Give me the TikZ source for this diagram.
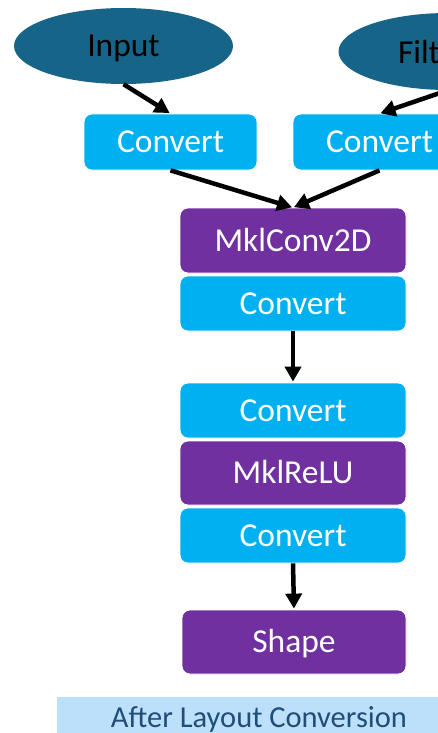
\documentclass[tikz,border=0pt]{standalone}
\usepackage{fontspec}
\setmainfont{Carlito}
\usetikzlibrary{arrows.meta,shapes.geometric}
\definecolor{datablue}{HTML}{176489}
\definecolor{convcyan}{HTML}{00B0F0}
\definecolor{opviolet}{HTML}{7030A0}
\definecolor{barblue}{HTML}{BDE0FA}
\definecolor{bartext}{HTML}{1F4E79}
\tikzset{
  lbl/.style={font=\fontsize{33.5}{40}\selectfont, text height=21.5pt, text depth=0pt},
  data/.style={ellipse, fill=datablue, text=black, lbl, minimum width=219pt, minimum height=76pt, inner sep=0pt},
  opbox/.style={rectangle, rounded corners=8pt, draw=white, line width=0.8pt, text=white, lbl, inner sep=0pt},
  cbox/.style={opbox, fill=convcyan, minimum height=56pt},
  pbox/.style={opbox, fill=opviolet, minimum height=65pt},
  arr/.style={line width=4.5pt, -{Triangle[length=15pt,width=16pt]}, shorten >=1pt},
}
\begin{document}
\begin{tikzpicture}[x=1pt,y=-1pt]
\useasboundingbox (0,0) rectangle (438,733);
\clip (0,0) rectangle (438,733);

% inputs
\node[data] (in)   at (123.5,46) {Input};
\node[data, minimum height=77pt] (filt) at (448,51.5) {};
\node[lbl, text=black, inner sep=0pt] (filtlbl) at (433,52.5) {Filter};

% layout conversions of the inputs
\node[cbox, minimum width=173pt] (cvA) at (170.5,142) {Convert};
\node[cbox, minimum width=173pt] (cvB) at (379.5,142) {Convert};

% main chain
\node[pbox, minimum width=226pt] (conv)  at (293,240.5) {MklConv2D};
\node[cbox, minimum width=226pt, minimum height=55pt] (cv1) at (293,303.5) {Convert};
\node[cbox, minimum width=226pt, minimum height=55pt] (cv2) at (293,410.5) {Convert};
\node[pbox, minimum width=226pt, minimum height=64pt] (relu) at (293,473) {MklReLU};
\node[cbox, minimum width=226pt, minimum height=55pt] (cv3) at (293,535.5) {Convert};
\node[pbox, minimum width=224pt, minimum height=64pt] (shape) at (294,642) {Shape};

% caption bar
\fill[barblue] (57,697) rectangle (470,740);
\node[text=bartext, font=\fontsize{30.5}{36}\selectfont, text height=20pt, text depth=0pt, inner sep=0pt] (cap) at (259,717.5) {After Layout Conversion};

% connectors
\draw[arr] (in.south) -- (cvA.north);
\draw[arr] (filt.south) -- (cvB.north);
\draw[arr] (cvA.south) -- (conv.north);
\draw[arr] (cvB.south) -- (conv.north);
\draw[arr] (cv1.south) -- (cv2.north);
\draw[arr] (cv3.south) -- (shape.north);
\end{tikzpicture}
\end{document}
